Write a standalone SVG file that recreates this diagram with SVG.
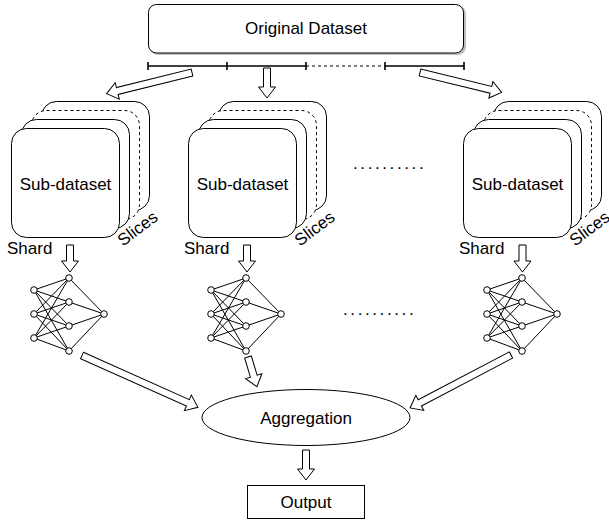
<svg xmlns="http://www.w3.org/2000/svg" xmlns:xlink="http://www.w3.org/1999/xlink" width="609" height="521" viewBox="0 0 609 521">
<style>
text{font-family:"Liberation Sans",Arial,sans-serif;font-size:17px;fill:#000}
.mid{text-anchor:middle}
.dots{letter-spacing:2.6px}
.card{fill:#fff;stroke:#000;stroke-width:1}
.dcard{fill:#fff;stroke:#000;stroke-width:1;stroke-dasharray:3 3}
.arr{fill:#fff;stroke:#000;stroke-width:1;stroke-linejoin:miter}
.net{fill:none;stroke:#000;stroke-width:1}
.node{fill:#fff;stroke:#000;stroke-width:1}
.bar{fill:none;stroke:#000;stroke-width:1.6}
</style>
<defs>
<g id="stackShape">
<rect class="card" x="41.5" y="101.5" width="108" height="109" rx="15"/>
<rect class="dcard" x="31.5" y="110.5" width="108" height="109" rx="15"/>
<rect class="card" x="21.5" y="119.5" width="108" height="109" rx="15"/>
<rect class="card" x="11.5" y="128.5" width="108" height="109" rx="15"/>
</g>
<g id="netShape">
<path class="net" d="M34 290L69 278M34 290L69 302M34 290L69 326M34 290L69 351M34 314L69 278M34 314L69 302M34 314L69 326M34 314L69 351M34 338L69 278M34 338L69 302M34 338L69 326M34 338L69 351M69 278L104 314M69 302L104 314M69 326L104 314M69 351L104 314"/>
<circle class="node" cx="34" cy="290" r="3.3"/>
<circle class="node" cx="34" cy="314" r="3.3"/>
<circle class="node" cx="34" cy="338" r="3.3"/>
<circle class="node" cx="69" cy="278" r="3.3"/>
<circle class="node" cx="69" cy="302" r="3.3"/>
<circle class="node" cx="69" cy="326" r="3.3"/>
<circle class="node" cx="69" cy="351" r="3.3"/>
<circle class="node" cx="104" cy="314" r="3.3"/>
</g>
</defs>

<g id="original-dataset">
<rect x="150" y="6" width="316" height="49" rx="8" fill="#000" opacity="0.25"/>
<rect class="card" x="148.5" y="4.5" width="315" height="48.5" rx="8"/>
<text class="mid" x="306" y="34">Original Dataset</text>
</g>

<g id="segments">
<path class="bar" d="M148 66H306M385 66H464M148 62V70M227 62V70M306 62V70M385 62V70M464 62V70"/>
<path fill="none" stroke="#000" stroke-width="1" stroke-dasharray="3 3" d="M306 66H385"/>
</g>

<g id="shard-1">
<use xlink:href="#stackShape"/>
<text class="mid" x="65.5" y="190">Sub-dataset</text>
<text x="7" y="254">Shard</text>
<text class="mid" transform="translate(141,233) rotate(-37)">Slices</text>
</g>
<g id="shard-2">
<use xlink:href="#stackShape" transform="translate(177,0)"/>
<text class="mid" x="242.5" y="190">Sub-dataset</text>
<text x="184" y="254">Shard</text>
<text class="mid" transform="translate(318,233) rotate(-37)">Slices</text>
</g>
<g id="shard-n">
<use xlink:href="#stackShape" transform="translate(452,0)"/>
<text class="mid" x="517.5" y="190">Sub-dataset</text>
<text x="459" y="254">Shard</text>
<text class="mid" transform="translate(593,233) rotate(-37)">Slices</text>
</g>

<g id="dots-top"><text class="dots" x="353" y="169">..........</text></g>
<g id="dots-bottom"><text class="dots" x="343" y="315">..........</text></g>

<g id="model-1"><use xlink:href="#netShape"/></g>
<g id="model-2"><use xlink:href="#netShape" transform="translate(177,0)"/></g>
<g id="model-n"><use xlink:href="#netShape" transform="translate(453,0)"/></g>

<g id="aggregation">
<ellipse class="card" cx="306" cy="417.5" rx="104" ry="28"/>
<text class="mid" x="306" y="424">Aggregation</text>
</g>

<g id="output">
<rect class="card" x="247.5" y="485.5" width="117" height="33"/>
<text class="mid" x="306" y="508">Output</text>
</g>

<g id="connectors">
<path class="arr" transform="translate(192,72.5) rotate(166.1)" d="M0 -3.5H77V-8.5L88 0L77 8.5V3.5H0Z"/>
<path class="arr" transform="translate(267,68) rotate(90)" d="M0 -3.5H19V-8.5L30 0L19 8.5V3.5H0Z"/>
<path class="arr" transform="translate(420,72.5) rotate(13.7)" d="M0 -3.5H73V-8.5L84 0L73 8.5V3.5H0Z"/>
<path class="arr" transform="translate(70,245) rotate(90)" d="M0 -3.5H16V-8.5L27 0L16 8.5V3.5H0Z"/>
<path class="arr" transform="translate(247,245) rotate(90)" d="M0 -3.5H16V-8.5L27 0L16 8.5V3.5H0Z"/>
<path class="arr" transform="translate(522.5,245) rotate(90)" d="M0 -3.5H16V-8.5L27 0L16 8.5V3.5H0Z"/>
<path class="arr" transform="translate(82,355.5) rotate(24.1)" d="M0 -3.5H116V-8.5L127 0L116 8.5V3.5H0Z"/>
<path class="arr" transform="translate(248,357) rotate(73.3)" d="M0 -3.5H20V-8.5L31 0L20 8.5V3.5H0Z"/>
<path class="arr" transform="translate(511,355) rotate(152.3)" d="M0 -3.5H103V-8.5L114 0L103 8.5V3.5H0Z"/>
<path class="arr" transform="translate(306,450) rotate(90)" d="M0 -3.5H19V-8.5L30 0L19 8.5V3.5H0Z"/>
</g>
</svg>
